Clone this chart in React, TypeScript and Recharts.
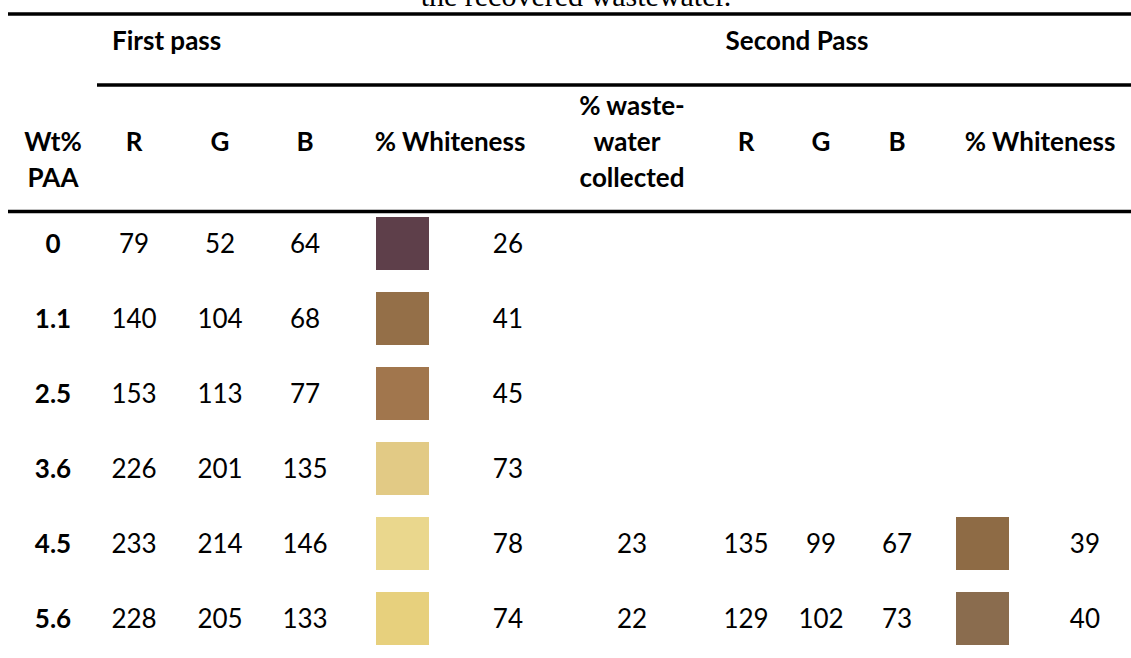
import React from 'react';
import { ScatterChart, Scatter, XAxis, YAxis, Customized } from 'recharts';

// rows: Wt% PAA
const rowLabels = ['0', '1.1', '2.5', '3.6', '4.5', '5.6'];

// first pass
const firstR = [79, 140, 153, 226, 233, 228];
const firstG = [52, 104, 113, 201, 214, 205];
const firstB = [64, 68, 77, 135, 146, 133];
const firstWhiteness = [26, 41, 45, 73, 78, 74];
const firstSwatch = ['#5E3F4A', '#946F48', '#A1764D', '#E2CA85', '#EAD78D', '#E7D07D'];

// second pass (only measured for the last two rows)
const wasteCollected = [null, null, null, null, 23, 22];
const secondR = [null, null, null, null, 135, 129];
const secondG = [null, null, null, null, 99, 102];
const secondB = [null, null, null, null, 67, 73];
const secondWhiteness = [null, null, null, null, 39, 40];
const secondSwatch = [null, null, null, null, '#8E6B45', '#8A6C4E'];

const W = 1131;
const H = 658;
const FONT = 'Lato, "Open Sans", sans-serif';
const FS = 26;

// column centres (layout only)
const COL = {
  paa: 53,
  r1: 134,
  g1: 220,
  b1: 305,
  w1: 450,
  waste: 632,
  r2: 746,
  g2: 821,
  b2: 897,
  w2: 1040,
};

type Cell = { x: number; y: number; v: number | string | null; c?: string | null };

const column = (x: number, values: (number | string | null)[], colors?: (string | null)[]): Cell[] =>
  values
    .map((v, i) => ({ x, y: i, v, c: colors ? colors[i] : null }))
    .filter((d) => d.v !== null);

const textCell = (bold: boolean) => (props: any) => {
  const { cx, cy, payload } = props;
  return (
    <text
      x={cx}
      y={cy}
      dy="0.36em"
      textAnchor="middle"
      fontFamily={FONT}
      fontSize={FS}
      fontWeight={bold ? 700 : 400}
      fill="#000"
    >
      {payload.v}
    </text>
  );
};

const whitenessCell = (swatchLeft: number, numRight: number) => (props: any) => {
  const { cx, cy, payload } = props;
  return (
    <g>
      <rect x={cx + swatchLeft} y={cy - 26.5} width={53} height={53} fill={payload.c} />
      <text x={cx + numRight} y={cy} dy="0.36em" textAnchor="end" fontFamily={FONT} fontSize={FS} fill="#000">
        {payload.v}
      </text>
    </g>
  );
};

const Header = () => {
  const bold = { fontFamily: FONT, fontSize: FS, fontWeight: 700, fill: '#000' } as const;
  const mid = (x: number, y: number, s: string) => (
    <text x={x} y={y} dy="0.36em" textAnchor="middle" {...bold}>
      {s}
    </text>
  );
  return (
    <g>
      <text x={576} y={6} textAnchor="middle" fontFamily='"Liberation Serif", "Times New Roman", serif' fontSize={30} fill="#000">
        the recovered wastewater.
      </text>
      <line x1={8} x2={W} y1={14} y2={14} stroke="#000" strokeWidth={3.4} />
      <text x={112} y={41} dy="0.36em" {...bold}>
        First pass
      </text>
      {mid(797, 41, 'Second Pass')}
      <line x1={97} x2={W} y1={85} y2={85} stroke="#000" strokeWidth={3.4} />
      {mid(COL.paa, 142, 'Wt%')}
      {mid(COL.paa, 178, 'PAA')}
      {mid(COL.r1, 142, 'R')}
      {mid(COL.g1, 142, 'G')}
      {mid(COL.b1, 142, 'B')}
      {mid(COL.w1, 142, '% Whiteness')}
      {mid(COL.waste, 106, '% waste-')}
      {mid(COL.waste - 5, 142, 'water')}
      {mid(COL.waste, 178, 'collected')}
      {mid(COL.r2, 142, 'R')}
      {mid(COL.g2, 142, 'G')}
      {mid(COL.b2, 142, 'B')}
      {mid(COL.w2, 142, '% Whiteness')}
      <line x1={8} x2={W} y1={211.5} y2={211.5} stroke="#000" strokeWidth={3.4} />
    </g>
  );
};

export default function App() {
  return (
    <div style={{ width: W, height: H, background: '#fff' }}>
      <style>{'body{margin:0;background:#fff}'}</style>
      <ScatterChart width={W} height={H} margin={{ top: 243.5, right: 0, bottom: 39.5, left: 0 }}>
        <XAxis type="number" dataKey="x" domain={[0, W]} hide />
        <YAxis type="number" dataKey="y" domain={[0, 5]} reversed hide />
        <Customized component={Header} />
        <Scatter data={column(COL.paa, rowLabels)} shape={textCell(true)} isAnimationActive={false} />
        <Scatter data={column(COL.r1, firstR)} shape={textCell(false)} isAnimationActive={false} />
        <Scatter data={column(COL.g1, firstG)} shape={textCell(false)} isAnimationActive={false} />
        <Scatter data={column(COL.b1, firstB)} shape={textCell(false)} isAnimationActive={false} />
        <Scatter
          data={column(COL.w1, firstWhiteness, firstSwatch)}
          shape={whitenessCell(-74, 73)}
          isAnimationActive={false}
        />
        <Scatter data={column(COL.waste, wasteCollected)} shape={textCell(false)} isAnimationActive={false} />
        <Scatter data={column(COL.r2, secondR)} shape={textCell(false)} isAnimationActive={false} />
        <Scatter data={column(COL.g2, secondG)} shape={textCell(false)} isAnimationActive={false} />
        <Scatter data={column(COL.b2, secondB)} shape={textCell(false)} isAnimationActive={false} />
        <Scatter
          data={column(COL.w2, secondWhiteness, secondSwatch)}
          shape={whitenessCell(-84, 60)}
          isAnimationActive={false}
        />
      </ScatterChart>
    </div>
  );
}
